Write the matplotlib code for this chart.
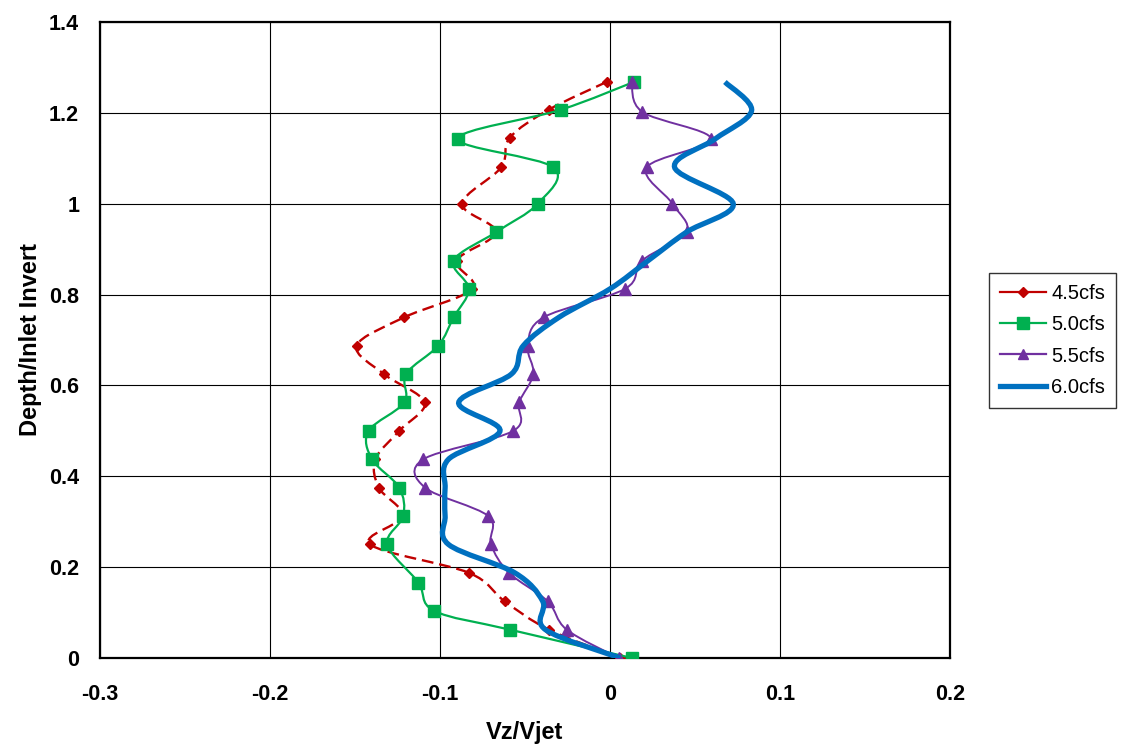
import numpy as np
import matplotlib
matplotlib.use('Agg')
import matplotlib.pyplot as plt
from matplotlib.path import Path
from matplotlib.patches import PathPatch
from matplotlib.lines import Line2D

plt.rcParams['font.family'] = ['Liberation Sans', 'DejaVu Sans']

# depth levels (Depth/Inlet Invert) and Vz/Vjet values
y_45 = [0, 0.0625, 0.125, 0.1875, 0.25, 0.3125, 0.375, 0.4375, 0.5, 0.5625, 0.625,
        0.6875, 0.75, 0.8125, 0.875, 0.9375, 1.0, 1.08, 1.145, 1.207, 1.268]
x_45 = [0.006, -0.036, -0.062, -0.083, -0.141, -0.122, -0.136, -0.138, -0.124, -0.109, -0.133,
        -0.149, -0.121, -0.081, -0.090, -0.067, -0.087, -0.064, -0.059, -0.036, -0.002]

y_50 = [0, 0.0625, 0.104, 0.166, 0.25, 0.3125, 0.375, 0.4375, 0.5, 0.5625, 0.625,
        0.6875, 0.75, 0.8125, 0.875, 0.9375, 1.0, 1.08, 1.143, 1.207, 1.268]
x_50 = [0.013, -0.059, -0.1035, -0.1127, -0.131, -0.1216, -0.124, -0.140, -0.142, -0.121, -0.120,
        -0.101, -0.092, -0.083, -0.092, -0.067, -0.0425, -0.0333, -0.0896, -0.0288, 0.014]

y_55 = [0, 0.0625, 0.125, 0.1875, 0.25, 0.3125, 0.375, 0.4375, 0.5, 0.5625, 0.625,
        0.6875, 0.75, 0.8125, 0.875, 0.9375, 1.0, 1.08, 1.143, 1.202, 1.268]
x_55 = [0.005, -0.0255, -0.0367, -0.0594, -0.070, -0.0716, -0.1088, -0.1098, -0.0569, -0.0535, -0.0451,
        -0.0484, -0.039, 0.0088, 0.019, 0.045, 0.0367, 0.0216, 0.0594, 0.019, 0.0127]

y_60 = [0, 0.0625, 0.125, 0.1875, 0.25, 0.3125, 0.375, 0.4375, 0.5, 0.5625, 0.625,
        0.6875, 0.75, 0.8125, 0.875, 0.9375, 1.0, 1.08, 1.143, 1.205, 1.268]
x_60 = [0.006, -0.038, -0.0396, -0.056, -0.095, -0.097, -0.097, -0.095, -0.0647, -0.089, -0.058,
        -0.051, -0.030, 0.0, 0.0225, 0.045, 0.0725, 0.038, 0.062, 0.0833, 0.0676]

labels = ['4.5cfs', '5.0cfs', '5.5cfs', '6.0cfs']
x_ticks = [-0.3, -0.2, -0.1, 0, 0.1, 0.2]
x_ticklabels = ['-0.3', '-0.2', '-0.1', '0', '0.1', '0.2']
y_ticks = [0, 0.2, 0.4, 0.6, 0.8, 1.0, 1.2, 1.4]
y_ticklabels = ['0', '0.2', '0.4', '0.6', '0.8', '1', '1.2', '1.4']


def smooth_path(x, y):
    # excel style smoothed line: bezier segments through the points
    pts = np.column_stack([x, y]).astype(float)
    n = len(pts)
    verts = [pts[0]]
    codes = [Path.MOVETO]
    for i in range(n - 1):
        p0 = pts[max(i - 1, 0)]
        p1 = pts[i]
        p2 = pts[i + 1]
        p3 = pts[min(i + 2, n - 1)]
        verts += [p1 + (p2 - p0) / 6, p2 - (p3 - p1) / 6, p2]
        codes += [Path.CURVE4] * 3
    return Path(verts, codes)


fig = plt.figure(figsize=(11.25, 7.45), dpi=100)
ax = fig.add_axes([100 / 1125, 1 - 658 / 745, 850 / 1125, 636 / 745])

series = [
    (x_45, y_45, '#C00000', 'D', 5.5, 1.7, (0, (5, 2.5))),
    (x_50, y_50, '#00B050', 's', 9, 1.6, '-'),
    (x_55, y_55, '#7030A0', '^', 8.5, 1.4, '-'),
    (x_60, y_60, '#0070C0', None, 0, 3.8, '-'),
]

handles = []
for i, (xs, ys, c, m, ms, lw, ls) in enumerate(series):
    patch = PathPatch(smooth_path(xs, ys), fill=False, edgecolor=c, lw=lw,
                      linestyle=ls, capstyle='butt', zorder=3 + i)
    ax.add_patch(patch)
    if m is not None:
        ax.plot(xs, ys, linestyle='none', marker=m, ms=ms, color=c,
                markeredgecolor=c, zorder=3 + i)
    handles.append(Line2D([], [], color=c, lw=lw if m is None else 1.6,
                          marker=m, ms=ms * 0.9 if m else 0, markeredgecolor=c))

ax.set_xlim(-0.3, 0.2)
ax.set_ylim(0, 1.4)
ax.set_xticks(x_ticks)
ax.set_xticklabels(x_ticklabels)
ax.set_yticks(y_ticks)
ax.set_yticklabels(y_ticklabels)
ax.grid(True, color='black', lw=0.8)
ax.set_axisbelow(True)
for s in ax.spines.values():
    s.set_linewidth(1.6)
    s.set_color('black')
ax.tick_params(length=0, labelsize=15.5)
ax.tick_params(axis='x', pad=19)
ax.tick_params(axis='y', pad=15)
for t in ax.get_xticklabels() + ax.get_yticklabels():
    t.set_fontweight('bold')

ax.set_xlabel('Vz/Vjet', fontsize=17, fontweight='bold', labelpad=11)
ax.set_ylabel('Depth/Inlet Invert', fontsize=17, fontweight='bold', labelpad=5)

leg = fig.legend(handles, labels, loc='center left', bbox_to_anchor=(989 / 1125, 1 - 340.5 / 745),
                 fontsize=14.5, frameon=True, fancybox=False, edgecolor='black',
                 handlelength=2.3, handletextpad=0.25, labelspacing=0.6,
                 borderpad=0.55, borderaxespad=0)
leg.get_frame().set_linewidth(1.0)

fig.savefig('out.png', dpi=100)
